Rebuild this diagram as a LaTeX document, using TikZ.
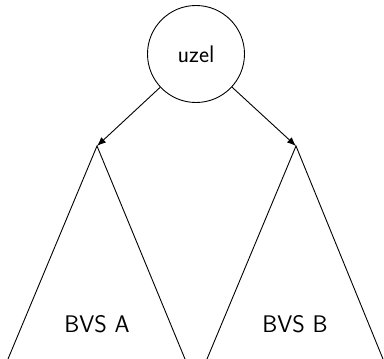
\documentclass[tikz,border=0pt]{standalone}
\usetikzlibrary{arrows.meta}
\begin{document}
\begin{tikzpicture}[x=1pt,y=-1pt,
  line width=0.9pt,
  lbl/.style={font=\fontsize{24}{28}\selectfont\sffamily},
  uzelnode/.style={circle,draw,minimum size=97pt,inner sep=0pt,font=\fontsize{24}{28}\selectfont\sffamily},
  arr/.style={-{Latex[length=9pt,width=7pt]}}]
\useasboundingbox (0,0) rectangle (384,359);
\node[uzelnode] (uzel) at (196,54) {uzel};
\coordinate (apexA) at (97,146);
\coordinate (apexB) at (296,146);
\coordinate (aL) at (8,359);
\coordinate (aR) at (185,359);
\coordinate (bL) at (207,359);
\coordinate (bR) at (383,359);
\draw (aL) -- (apexA) -- (aR);
\draw (bL) -- (apexB) -- (bR);
\draw[arr] (uzel) -- (apexA);
\draw[arr] (uzel) -- (apexB);
\node[lbl] (bvsa) at (97,324) {BVS A};
\node[lbl] (bvsb) at (295,324) {BVS B};
\end{tikzpicture}
\end{document}
